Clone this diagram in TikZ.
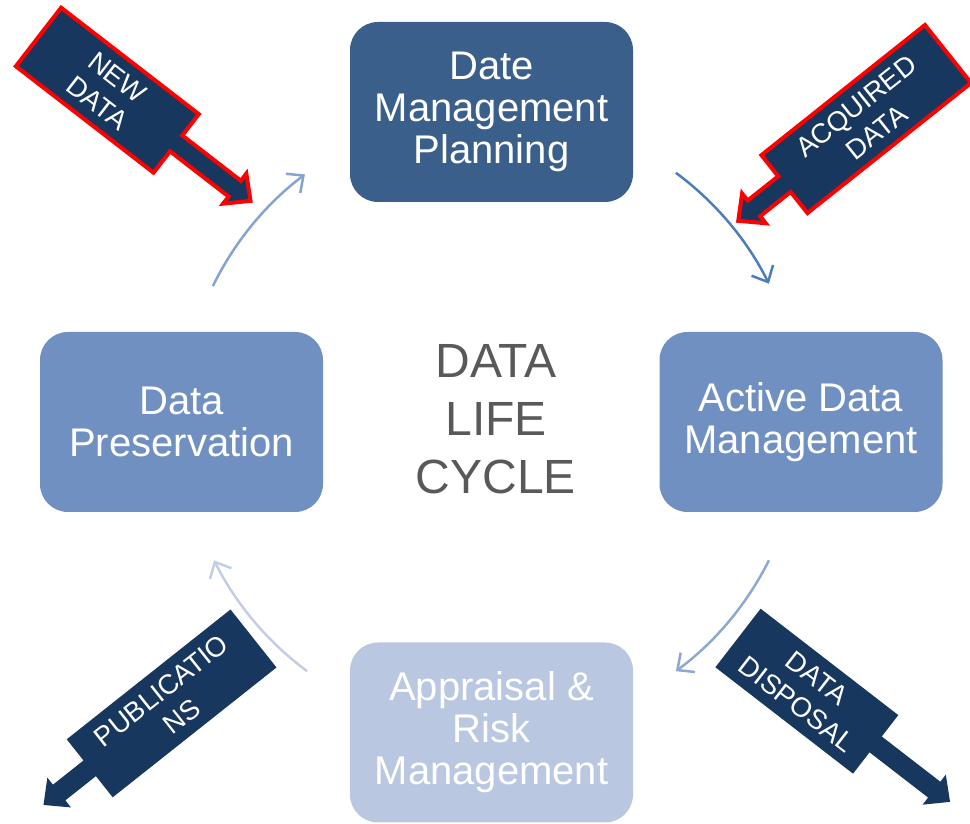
\documentclass[tikz,border=0pt]{standalone}
\usepackage{fontspec}
\setmainfont{Liberation Sans}
\usetikzlibrary{arrows.meta}

\definecolor{planblue}{HTML}{3A5F8B}
\definecolor{midblue}{HTML}{7090C2}
\definecolor{paleblue}{HTML}{B9C7E1}
\definecolor{navy}{HTML}{17375E}
\definecolor{cyclegray}{HTML}{595959}
\definecolor{arcA}{HTML}{87A3CF}
\definecolor{arcB}{HTML}{4C7EBC}
\definecolor{arcC}{HTML}{8EA8D2}
\definecolor{arcD}{HTML}{C3CEE5}

\begin{document}
\begin{tikzpicture}[x=1pt, y=1pt, >={Straight Barb[length=13pt,width=24pt]}]
      \tikzstyle{stage} = [rectangle, rounded corners=28pt, minimum width=283pt, minimum height=180pt, inner sep=0pt, text=white, align=center, font=\fontsize{40}{42}\selectfont]
      \tikzstyle{cyc} = [->, line width=2.5pt]
      \tikzstyle{tag} = [text=white, align=center, font=\fontsize{27.5}{33}\selectfont]
      \tikzstyle{inflow} = [fill=navy, draw=red, line width=4pt]
      \tikzstyle{outflow} = [fill=navy]
      \useasboundingbox (0,0) rectangle (970,824);

      \node [stage, fill=planblue] (plan) at (491.5,712) {Date\\Management\\Planning};
      \node [stage, fill=midblue] (keep) at (181.5,402) {Data\\Preservation};
      \node [stage, fill=midblue] (act) at (801,402) {Active Data\\Management};
      \node [stage, fill=paleblue] (risk) at (491.5,91.5) {Appraisal \&\\Risk\\Management};
      \node [text=cyclegray, align=center, font=\fontsize{48}{58}\selectfont] (life) at (496,405) {DATA\\LIFE\\CYCLE};

      % cycle arrows round the centre
      \coordinate (hub) at (491.5,402);
      \foreach \a/\b/\c in {154/127/arcA, 53.5/26.5/arcB, -26.5/-53.5/arcC, -126.5/-153.5/arcD} {
        \draw [cyc, \c] ([shift={(\a:310)}]hub) arc [start angle=\a, end angle=\b, radius=310];
      }

      % data in and out
      \foreach \px/\py/\ang/\len/\turn/\sty/\nm/\txt in {
          38.5/787/-37.7/174/0/inflow/new/{NEW\\DATA},
          948/770/218.5/209/180/inflow/acq/{ACQUIRED\\DATA},
          253.5/185.5/218.4/209/180/outflow/pub/{PUBLICATIO\\NS},
          738/186/-37.7/174/0/outflow/disp/{DATA\\DISPOSAL}} {
        \begin{scope}[shift={(\px,\py)}, rotate=\ang]
          \path [\sty] (0,-37) -- (\len,-37) -- (\len,-10) -- (248,-10) -- (248,-19) -- (268,0)
            -- (248,19) -- (248,10) -- (\len,10) -- (\len,37) -- (0,37) -- cycle;
          \node [tag, transform shape, rotate=\turn] (\nm) at (\len/2,0) {\txt};
        \end{scope}
      }
    \end{tikzpicture}
\end{document}
